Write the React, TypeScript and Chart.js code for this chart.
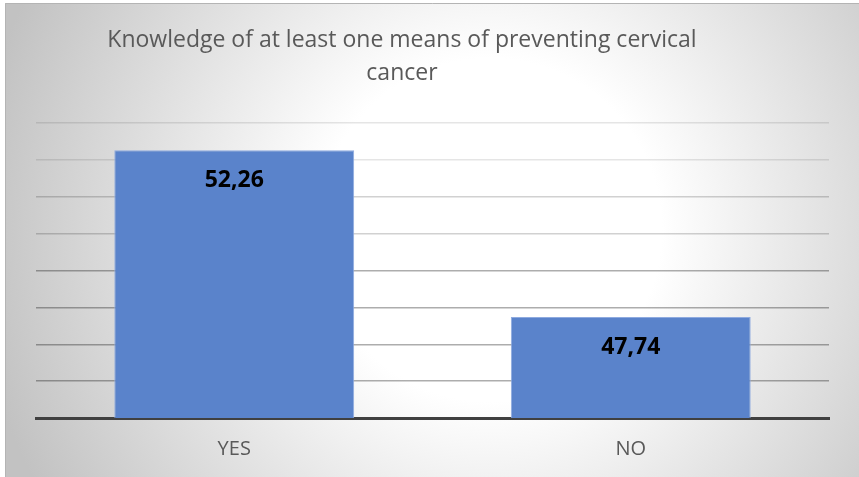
import React, { useEffect, useRef } from "react";
import { Chart, registerables } from "chart.js";

Chart.register(...registerables);

const categories = ["YES", "NO"];
const values = [52.26, 47.74];
const valueLabels = ["52,26", "47,74"];
const titleLines = ["Knowledge of at least one means of preventing cervical", "cancer"];
const yMin = 45;
const yMax = 53;
const yStep = 1;

const backgroundPlugin = {
  id: "bgFrame",
  beforeDraw(chart: any) {
    const { ctx, width, height } = chart;
    ctx.save();
    ctx.fillStyle = "#ffffff";
    ctx.fillRect(0, 0, width, height);
    const g = ctx.createRadialGradient(490, 230, 0, 490, 230, 520);
    g.addColorStop(0, "#ffffff");
    g.addColorStop(0.33, "#ffffff");
    g.addColorStop(1, "#c2c2c2");
    ctx.fillStyle = g;
    ctx.fillRect(5, 3, width - 5, height - 3);
    ctx.strokeStyle = "#b4b4b4";
    ctx.lineWidth = 1;
    ctx.beginPath();
    ctx.moveTo(5.5, height);
    ctx.lineTo(5.5, 3.5);
    ctx.lineTo(width, 3.5);
    ctx.stroke();
    ctx.restore();
  },
};

const titlePlugin = {
  id: "customTitle",
  afterDraw(chart: any) {
    const { ctx, chartArea } = chart;
    const cx = chartArea.left + (chartArea.right - chartArea.left) * 0.4615;
    ctx.save();
    ctx.fillStyle = "#595959";
    ctx.font = "23px 'Open Sans'";
    ctx.textAlign = "center";
    ctx.textBaseline = "alphabetic";
    titleLines.forEach((line, i) => {
      ctx.fillText(line, cx, 47 + i * 33);
    });
    ctx.restore();
  },
};

const valueLabelPlugin = {
  id: "valueLabels",
  afterDraw(chart: any) {
    const { ctx } = chart;
    const meta = chart.getDatasetMeta(0);
    ctx.save();
    ctx.fillStyle = "#000000";
    ctx.font = "bold 23px 'Open Sans'";
    ctx.textAlign = "center";
    ctx.textBaseline = "middle";
    meta.data.forEach((bar: any, i: number) => {
      ctx.fillText(valueLabels[i], bar.x, bar.y + 30);
    });
    ctx.restore();
  },
};

export default function App() {
  const ref = useRef<HTMLCanvasElement | null>(null);
  useEffect(() => {
    document.body.style.margin = "0";
    if (!ref.current) return;
    const chart = new Chart(ref.current, {
      type: "bar",
      data: {
        labels: categories,
        datasets: [
          {
            data: values,
            backgroundColor: "#5a83cb",
            borderColor: "#8eaadf",
            borderWidth: 1,
            categoryPercentage: 1,
            barPercentage: 0.605,
          },
        ],
      },
      options: {
        animation: false,
        responsive: false,
        devicePixelRatio: 1,
        layout: { padding: { left: 36, right: 30, top: 123, bottom: 5 } },
        plugins: {
          legend: { display: false },
          title: { display: false },
          tooltip: { enabled: false },
        },
        scales: {
          x: {
            grid: { display: false },
            border: { color: "#404040", width: 3 },
            ticks: {
              color: "#595959",
              font: { family: "'Open Sans'", size: 20 },
              padding: 11,
            },
          },
          y: {
            min: yMin,
            max: yMax,
            z: 1,
            border: { display: false },
            ticks: { display: false, stepSize: yStep },
            grid: {
              drawTicks: false,
              lineWidth: 1.5,
              color: (c: any) => {
                const v = c.tick ? c.tick.value : 0;
                if (v >= 52) return "rgba(0,0,0,0.1)";
                if (v >= 50) return "rgba(0,0,0,0.18)";
                return "rgba(0,0,0,0.32)";
              },
            },
          },
        },
      },
      plugins: [backgroundPlugin, titlePlugin, valueLabelPlugin],
    });
    return () => chart.destroy();
  }, []);
  return <canvas ref={ref} width={859} height={477} style={{ display: "block" }} />;
}
